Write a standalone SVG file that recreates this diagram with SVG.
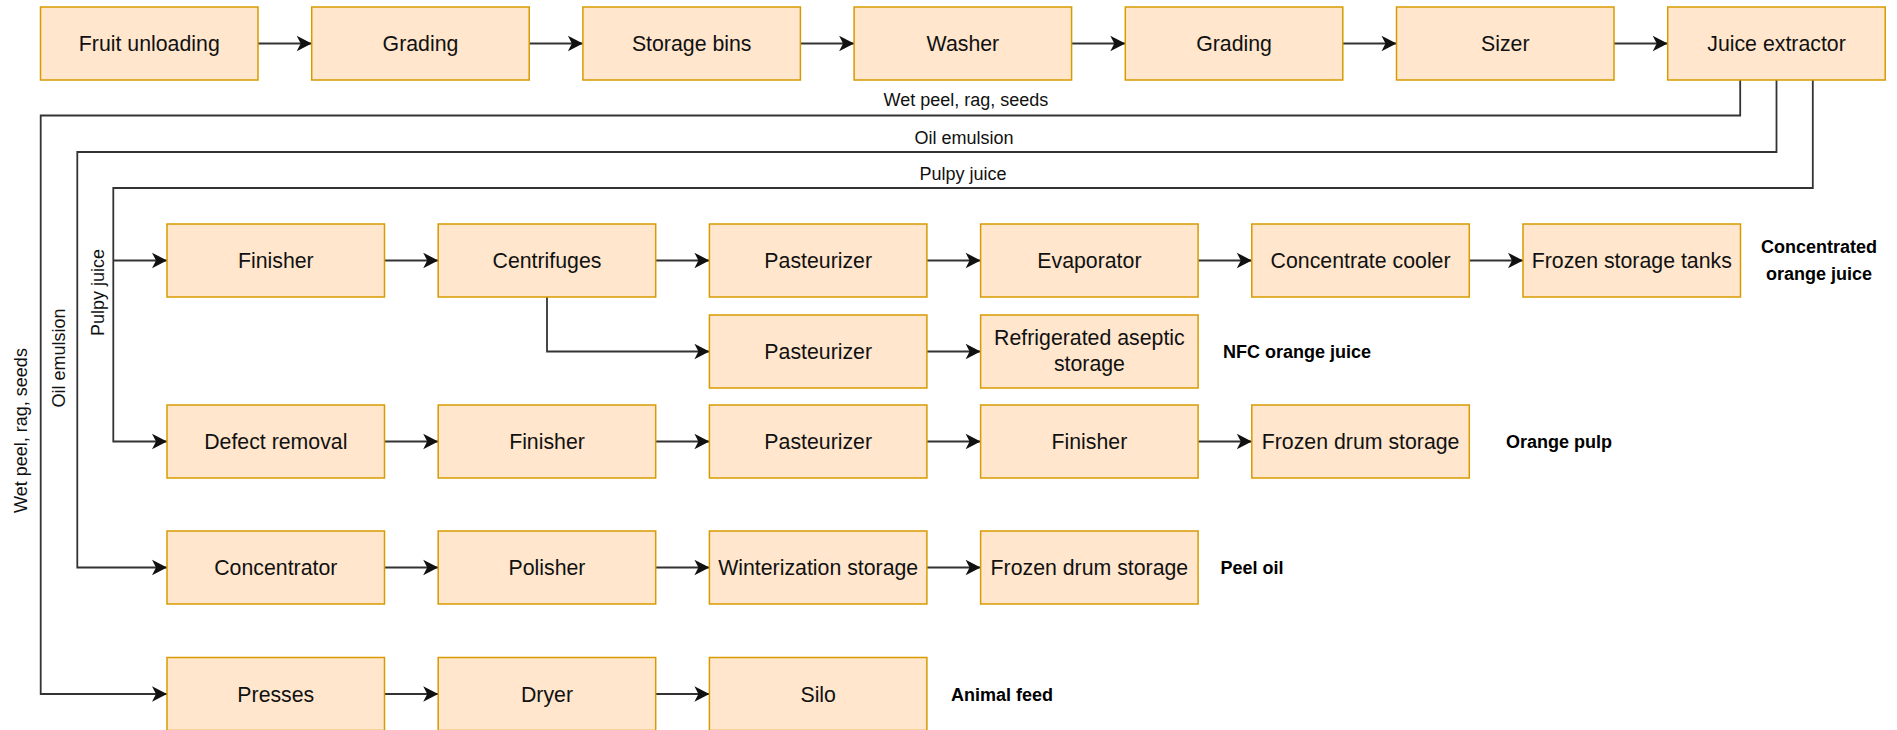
<svg xmlns="http://www.w3.org/2000/svg" width="1897" height="730" viewBox="0 0 1897 730">
<style>
.box rect{fill:#ffe6cc;stroke:#d79b00;stroke-width:1.5}
.box text{font-family:"Liberation Sans",Arial,sans-serif;font-size:21.3px;fill:#111;text-anchor:middle}
.edge{fill:none;stroke:#333;stroke-width:1.8}
.lbl{font-family:"Liberation Sans",Arial,sans-serif;font-size:18px;fill:#111;text-anchor:middle}
.out{font-family:"Liberation Sans",Arial,sans-serif;font-size:18px;font-weight:bold;fill:#000;text-anchor:middle}
</style>
<defs>
<marker id="arr" viewBox="-16 -9 17 18" refX="0" refY="0" markerWidth="17" markerHeight="18" markerUnits="userSpaceOnUse" orient="auto">
<path d="M0,0 L-15,-7.8 L-11,0 L-15,7.8 Z" fill="#111"/>
</marker>
</defs>
<rect width="1897" height="730" fill="#fff"/>

<g id="connectors">
<path class="edge" marker-end="url(#arr)" d="M258,43.5 H311.7"/>
<path class="edge" marker-end="url(#arr)" d="M529.2,43.5 H582.9"/>
<path class="edge" marker-end="url(#arr)" d="M800.4,43.5 H854.1"/>
<path class="edge" marker-end="url(#arr)" d="M1071.6,43.5 H1125.3"/>
<path class="edge" marker-end="url(#arr)" d="M1342.8,43.5 H1396.5"/>
<path class="edge" marker-end="url(#arr)" d="M1614,43.5 H1667.7"/>

<path class="edge" marker-end="url(#arr)" d="M1740.2,80 V115.5 H40.7 V694 H167"/>
<path class="edge" marker-end="url(#arr)" d="M1776.5,80 V152 H77.3 V567.5 H167"/>
<path class="edge" marker-end="url(#arr)" d="M1812.8,80 V188 H113.3 V441.5 H167"/>
<path class="edge" marker-end="url(#arr)" d="M113.3,260.5 H167"/>

<path class="edge" marker-end="url(#arr)" d="M384.5,260.5 H438.2"/>
<path class="edge" marker-end="url(#arr)" d="M655.7,260.5 H709.4"/>
<path class="edge" marker-end="url(#arr)" d="M926.9,260.5 H980.6"/>
<path class="edge" marker-end="url(#arr)" d="M1198.1,260.5 H1251.8"/>
<path class="edge" marker-end="url(#arr)" d="M1469.3,260.5 H1523"/>

<path class="edge" marker-end="url(#arr)" d="M547,297 V351.5 H709.4"/>
<path class="edge" marker-end="url(#arr)" d="M926.9,351.5 H980.6"/>

<path class="edge" marker-end="url(#arr)" d="M384.5,441.5 H438.2"/>
<path class="edge" marker-end="url(#arr)" d="M655.7,441.5 H709.4"/>
<path class="edge" marker-end="url(#arr)" d="M926.9,441.5 H980.6"/>
<path class="edge" marker-end="url(#arr)" d="M1198.1,441.5 H1251.8"/>

<path class="edge" marker-end="url(#arr)" d="M384.5,567.5 H438.2"/>
<path class="edge" marker-end="url(#arr)" d="M655.7,567.5 H709.4"/>
<path class="edge" marker-end="url(#arr)" d="M926.9,567.5 H980.6"/>

<path class="edge" marker-end="url(#arr)" d="M384.5,694 H438.2"/>
<path class="edge" marker-end="url(#arr)" d="M655.7,694 H709.4"/>

<text class="lbl" x="966" y="106">Wet peel, rag, seeds</text>
<text class="lbl" x="964" y="143.5">Oil emulsion</text>
<text class="lbl" x="963" y="180">Pulpy juice</text>
<text class="lbl" transform="rotate(-90 27 430.5)" x="27" y="430.5">Wet peel, rag, seeds</text>
<text class="lbl" transform="rotate(-90 65 358)" x="65" y="358">Oil emulsion</text>
<text class="lbl" transform="rotate(-90 103.5 292.5)" x="103.5" y="292.5">Pulpy juice</text>
</g>

<g id="n-fruit-unloading" class="box"><rect x="40.5" y="7" width="217.5" height="73"/><text x="149.3" y="51">Fruit unloading</text></g>
<g id="n-grading-1" class="box"><rect x="311.7" y="7" width="217.5" height="73"/><text x="420.5" y="51">Grading</text></g>
<g id="n-storage-bins" class="box"><rect x="582.9" y="7" width="217.5" height="73"/><text x="691.7" y="51">Storage bins</text></g>
<g id="n-washer" class="box"><rect x="854.1" y="7" width="217.5" height="73"/><text x="962.9" y="51">Washer</text></g>
<g id="n-grading-2" class="box"><rect x="1125.3" y="7" width="217.5" height="73"/><text x="1234.1" y="51">Grading</text></g>
<g id="n-sizer" class="box"><rect x="1396.5" y="7" width="217.5" height="73"/><text x="1505.3" y="51">Sizer</text></g>
<g id="n-juice-extractor" class="box"><rect x="1667.7" y="7" width="217.5" height="73"/><text x="1776.5" y="51">Juice extractor</text></g>

<g id="n-finisher-1" class="box"><rect x="167" y="224" width="217.5" height="73"/><text x="275.8" y="268">Finisher</text></g>
<g id="n-centrifuges" class="box"><rect x="438.2" y="224" width="217.5" height="73"/><text x="547" y="268">Centrifuges</text></g>
<g id="n-pasteurizer-1" class="box"><rect x="709.4" y="224" width="217.5" height="73"/><text x="818.2" y="268">Pasteurizer</text></g>
<g id="n-evaporator" class="box"><rect x="980.6" y="224" width="217.5" height="73"/><text x="1089.4" y="268">Evaporator</text></g>
<g id="n-concentrate-cooler" class="box"><rect x="1251.8" y="224" width="217.5" height="73"/><text x="1360.6" y="268">Concentrate cooler</text></g>
<g id="n-frozen-storage-tanks" class="box"><rect x="1523" y="224" width="217.5" height="73"/><text x="1631.8" y="268">Frozen storage tanks</text></g>

<g id="n-pasteurizer-2" class="box"><rect x="709.4" y="315" width="217.5" height="73"/><text x="818.2" y="359">Pasteurizer</text></g>
<g id="n-refrigerated-aseptic-storage" class="box"><rect x="980.6" y="315" width="217.5" height="73"/><text x="1089.4" y="345">Refrigerated aseptic</text><text x="1089.4" y="370.5">storage</text></g>

<g id="n-defect-removal" class="box"><rect x="167" y="405" width="217.5" height="73"/><text x="275.8" y="449">Defect removal</text></g>
<g id="n-finisher-2" class="box"><rect x="438.2" y="405" width="217.5" height="73"/><text x="547" y="449">Finisher</text></g>
<g id="n-pasteurizer-3" class="box"><rect x="709.4" y="405" width="217.5" height="73"/><text x="818.2" y="449">Pasteurizer</text></g>
<g id="n-finisher-3" class="box"><rect x="980.6" y="405" width="217.5" height="73"/><text x="1089.4" y="449">Finisher</text></g>
<g id="n-frozen-drum-storage-1" class="box"><rect x="1251.8" y="405" width="217.5" height="73"/><text x="1360.6" y="449">Frozen drum storage</text></g>

<g id="n-concentrator" class="box"><rect x="167" y="531" width="217.5" height="73"/><text x="275.8" y="575">Concentrator</text></g>
<g id="n-polisher" class="box"><rect x="438.2" y="531" width="217.5" height="73"/><text x="547" y="575">Polisher</text></g>
<g id="n-winterization-storage" class="box"><rect x="709.4" y="531" width="217.5" height="73"/><text x="818.2" y="575">Winterization storage</text></g>
<g id="n-frozen-drum-storage-2" class="box"><rect x="980.6" y="531" width="217.5" height="73"/><text x="1089.4" y="575">Frozen drum storage</text></g>

<g id="n-presses" class="box"><rect x="167" y="657.5" width="217.5" height="73"/><text x="275.8" y="701.5">Presses</text></g>
<g id="n-dryer" class="box"><rect x="438.2" y="657.5" width="217.5" height="73"/><text x="547" y="701.5">Dryer</text></g>
<g id="n-silo" class="box"><rect x="709.4" y="657.5" width="217.5" height="73"/><text x="818.2" y="701.5">Silo</text></g>

<g id="outputs">
<text class="out" x="1819" y="253">Concentrated</text>
<text class="out" x="1819" y="280">orange juice</text>
<text class="out" x="1297" y="358">NFC orange juice</text>
<text class="out" x="1559" y="448">Orange pulp</text>
<text class="out" x="1252" y="574">Peel oil</text>
<text class="out" x="1002" y="700.5">Animal feed</text>
</g>
</svg>
